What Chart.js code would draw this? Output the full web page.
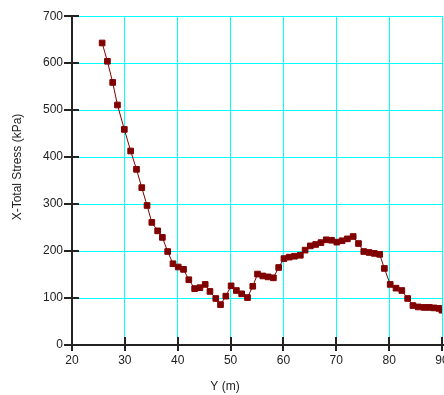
<!DOCTYPE html>
<html>
<head>
<meta charset="utf-8">
<script src="https://cdn.jsdelivr.net/npm/chart.js@4/dist/chart.umd.min.js"></script>
<style>
  html, body { margin: 0; padding: 0; background: #fff; overflow: hidden; }
  #wrap { width: 470px; height: 395px; }
</style>
</head>
<body>
<div id="wrap"><canvas id="chart" width="470" height="395"></canvas></div>
<script>
// position along Y (m) and X-total stress (kPa)
const posY = [25.7, 26.7, 27.7, 28.6, 29.9, 31.1, 32.2, 33.2, 34.2, 35.1,
  36.2, 37.1, 38.1, 39.1, 40.1, 41.1, 42.1, 43.2, 44.2, 45.2,
  46.1, 47.2, 48.1, 49.1, 50.1, 51.1, 52.1, 53.2, 54.2, 55.1,
  56.1, 57.1, 58.1, 59.1, 60.1, 61.1, 62.1, 63.2, 64.1, 65.1,
  66.1, 67.1, 68.1, 69.1, 70.1, 71.1, 72.1, 73.2, 74.2, 75.2,
  76.2, 77.2, 78.2, 79.1, 80.2, 81.3, 82.4, 83.5, 84.5, 85.5,
  86.6, 87.6, 88.5, 89.4, 90.0];
const stressX = [643, 604, 559, 511, 459, 413, 374, 335, 297, 261,
  243, 229, 199, 173, 166, 161, 139, 120, 122, 129,
  114, 99, 86, 104, 126, 116, 109, 101, 125, 151,
  147, 145, 143, 165, 184, 187, 189, 191, 202, 211,
  214, 218, 224, 223, 219, 222, 226, 231, 216, 199,
  197, 195, 193, 163, 129, 121, 116, 99, 84, 81,
  80, 80, 79, 78, 74];
const xTicks = [20, 30, 40, 50, 60, 70, 80, 90];
const yTicks = [0, 100, 200, 300, 400, 500, 600, 700];

const xTitle = 'Y (m)';
const yTitle = 'X-Total Stress (kPa)';

const font = { family: 'Liberation Sans, Arial, sans-serif', size: 12 };

// black axis lines with ticks crossing them, plus the two axis titles
const axesPlugin = {
  id: 'axes',
  afterDraw(chart) {
    const ctx = chart.ctx;
    const a = chart.chartArea;
    const xs = chart.scales.x, ys = chart.scales.y;
    ctx.save();
    ctx.strokeStyle = '#222';
    ctx.lineWidth = 2;
    ctx.beginPath();
    ctx.moveTo(a.left, a.top);
    ctx.lineTo(a.left, a.bottom);
    ctx.lineTo(a.right + 2, a.bottom);
    yTicks.forEach(v => {
      const p = Math.round(ys.getPixelForValue(v));
      ctx.moveTo(a.left - 8, p);
      ctx.lineTo(a.left + 7, p);
    });
    xTicks.forEach(v => {
      const p = Math.round(xs.getPixelForValue(v));
      ctx.moveTo(p, a.bottom - 8);
      ctx.lineTo(p, a.bottom + 6);
    });
    ctx.stroke();

    ctx.fillStyle = '#222';
    ctx.font = '12px ' + font.family;
    ctx.textAlign = 'center';
    ctx.textBaseline = 'middle';
    ctx.fillText(xTitle, 225, 387);
    ctx.translate(18, 167);
    ctx.rotate(-Math.PI / 2);
    ctx.fillText(yTitle, 0, 0);
    ctx.restore();
  }
};

new Chart(document.getElementById('chart'), {
  type: 'scatter',
  data: {
    datasets: [{
      data: posY.map((x, i) => ({ x: x, y: stressX[i] })),
      showLine: true,
      borderColor: '#800000',
      borderWidth: 1,
      backgroundColor: '#800000',
      pointStyle: 'rect',
      pointRadius: 4,
      pointBorderWidth: 1,
      pointBorderColor: '#800000',
      tension: 0
    }]
  },
  options: {
    responsive: false,
    animation: false,
    layout: { padding: { left: 0, top: 16, right: 28, bottom: 0 } },
    plugins: { legend: { display: false }, tooltip: { enabled: false } },
    scales: {
      x: {
        type: 'linear',
        min: 20, max: 90,
        afterFit(s) { s.height = 50; },
        afterBuildTicks(s) { s.ticks = xTicks.map(v => ({ value: v })); },
        grid: { color: '#00ffff', lineWidth: 1, drawTicks: false },
        border: { display: false },
        ticks: { color: '#222', font: font, padding: 8, maxRotation: 0 }
      },
      y: {
        type: 'linear',
        min: 0, max: 700,
        afterFit(s) { s.width = 72; },
        afterBuildTicks(s) { s.ticks = yTicks.map(v => ({ value: v })); },
        grid: { color: '#00ffff', lineWidth: 1, drawTicks: false },
        border: { display: false },
        ticks: { color: '#222', font: font, padding: 9 }
      }
    }
  },
  plugins: [axesPlugin]
});
</script>
</body>
</html>
